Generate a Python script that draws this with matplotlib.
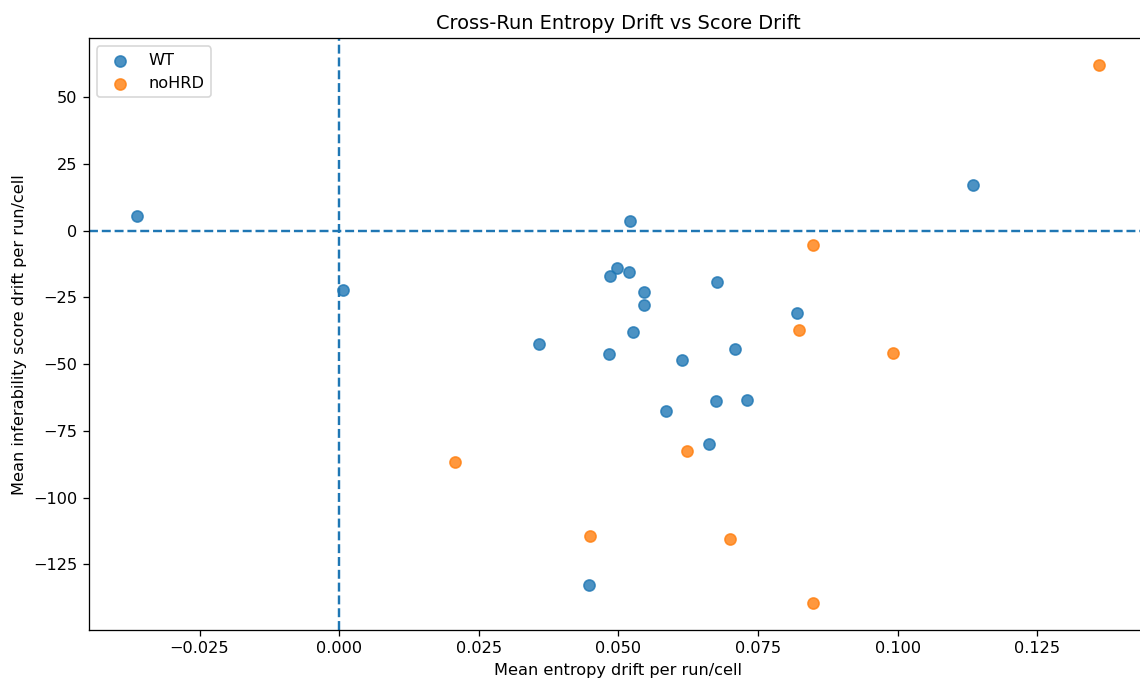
import numpy as np
import matplotlib.pyplot as plt

# mean entropy drift / mean score drift per run/cell
wt_x = [-0.0362, 0.0007, 0.0520, 0.0497, 0.0485, 0.0519, 0.0545, 0.0545, 0.0526,
        0.0357, 0.0483, 0.0613, 0.0676, 0.0708, 0.0819, 0.0586, 0.0674, 0.0730,
        0.0662, 0.0447, 0.1134]
wt_y = [5.6, -22.1, 3.4, -14.2, -16.9, -15.4, -22.9, -27.8, -37.9,
        -42.4, -46.1, -48.4, -19.1, -44.3, -30.8, -67.5, -63.8, -63.4,
        -79.9, -132.8, 16.9]

nohrd_x = [0.1360, 0.0848, 0.0823, 0.0991, 0.0622, 0.0207, 0.0449, 0.0699, 0.0848]
nohrd_y = [61.9, -5.3, -37.1, -45.8, -82.5, -86.6, -114.4, -115.5, -139.5]

fig, ax = plt.subplots(figsize=(1140 / 116, 684 / 116), dpi=116)
# the reference is cropped on the right, so the axes run just past the edge
fig.subplots_adjust(left=0.078, right=1.006, top=0.944, bottom=0.079)

ax.scatter(wt_x, wt_y, s=48, alpha=0.8, label='WT')
ax.scatter(nohrd_x, nohrd_y, s=48, alpha=0.8, label='noHRD')
ax.axhline(0, ls='--')
ax.axvline(0, ls='--')

ax.set_title('Cross-Run Entropy Drift vs Score Drift')
ax.set_xlabel('Mean entropy drift per run/cell')
ax.set_ylabel('Mean inferability score drift per run/cell')
ax.legend(loc='upper left')

fig.savefig('out.png')
